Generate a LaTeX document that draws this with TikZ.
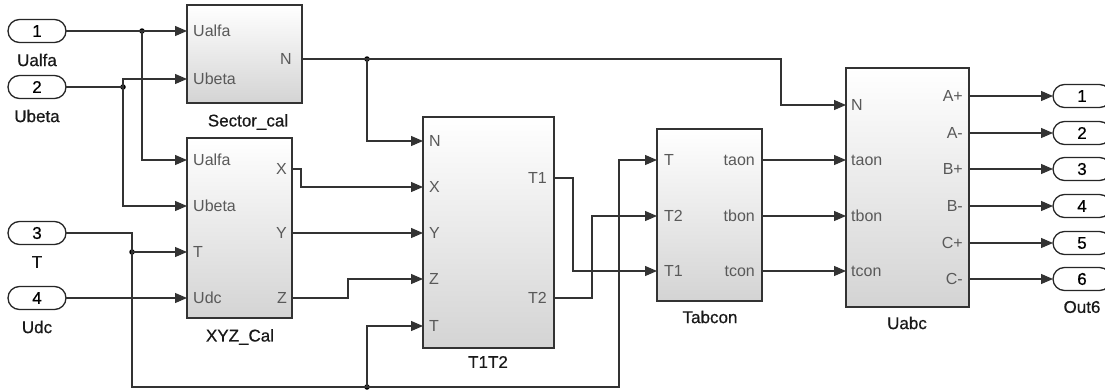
\documentclass[tikz,border=0pt]{standalone}
\usepackage{fontspec}
\setmainfont{Liberation Sans}
\newfontfamily\namefont[FakeBold=0.6]{Liberation Sans}
\usetikzlibrary{arrows.meta}
\begin{document}
\begin{tikzpicture}[x=1pt,y=-1pt,
  blk/.style={draw=black!80, line width=1.3pt, top color=white, bottom color=black!17, inner sep=0pt, outer sep=0pt, anchor=north west},
  pill/.style={draw=black!85, line width=1.3pt, rounded corners=11.5pt, minimum width=58pt, minimum height=23pt, inner sep=0pt, outer sep=0pt, fill=white, font=\namefont\fontsize{17}{17}\selectfont},
  plbl/.style={text=black!65, font=\fontsize{16}{16}\selectfont, inner sep=0pt},
  bname/.style={font=\namefont\fontsize{17}{17}\selectfont, text=black!90, inner sep=0pt},
  wire/.style={draw=black!80, line width=1.1pt},
  arr/.style={wire, -{Triangle[length=12pt,width=10pt]}},
  jdot/.style={circle, fill=black, inner sep=0pt, minimum size=5.5pt}
]
\useasboundingbox (0,0) rectangle (1105,391);
\clip (0,0) rectangle (1105,391);

% ---------- blocks ----------
\node[blk, minimum width=115pt, minimum height=98pt] (sec) at (187,5) {};
\node[blk, minimum width=105pt, minimum height=180pt] (xyz) at (187,138) {};
\node[blk, minimum width=131pt, minimum height=231pt] (t12) at (423,117) {};
\node[blk, minimum width=105pt, minimum height=172pt] (tab) at (657,129) {};
\node[blk, minimum width=123pt, minimum height=239pt] (uabc) at (846,68) {};

\node[bname] (secname) at (248,122) {Sector\_cal};
\node[bname] (xyzname) at (240,337) {XYZ\_Cal};
\node[bname] (t12name) at (488,362) {T1T2};
\node[bname] (tabname) at (710,317) {Tabcon};
\node[bname] (uabcname) at (907,323) {Uabc};

% ---------- port labels ----------
\node[plbl, anchor=west] (l1) at (193,31) {Ualfa};
\node[plbl, anchor=west] (l2) at (193,79) {Ubeta};
\node[plbl, anchor=east] (l3) at (292,59) {N};

\node[plbl, anchor=west] (l4) at (193,160) {Ualfa};
\node[plbl, anchor=west] (l5) at (193,206) {Ubeta};
\node[plbl, anchor=west] (l6) at (193,252) {T};
\node[plbl, anchor=west] (l7) at (193,298) {Udc};
\node[plbl, anchor=east] (l8) at (287,169) {X};
\node[plbl, anchor=east] (l9) at (287,233) {Y};
\node[plbl, anchor=east] (l10) at (287,298) {Z};

\node[plbl, anchor=west] (l11) at (429,141) {N};
\node[plbl, anchor=west] (l12) at (429,187) {X};
\node[plbl, anchor=west] (l13) at (429,233) {Y};
\node[plbl, anchor=west] (l14) at (429,279) {Z};
\node[plbl, anchor=west] (l15) at (429,326) {T};
\node[plbl, anchor=east] (l16) at (547,178) {T1};
\node[plbl, anchor=east] (l17) at (547,298) {T2};

\node[plbl, anchor=west] (l18) at (664,160) {T};
\node[plbl, anchor=west] (l19) at (664,216) {T2};
\node[plbl, anchor=west] (l20) at (664,271) {T1};
\node[plbl, anchor=east] (l21) at (755,160) {taon};
\node[plbl, anchor=east] (l22) at (755,216) {tbon};
\node[plbl, anchor=east] (l23) at (755,271) {tcon};

\node[plbl, anchor=west] (l24) at (851,105) {N};
\node[plbl, anchor=west] (l25) at (851,160) {taon};
\node[plbl, anchor=west] (l26) at (851,216) {tbon};
\node[plbl, anchor=west] (l27) at (851,271) {tcon};
\node[plbl, anchor=east] (l28) at (963,96) {A+};
\node[plbl, anchor=east] (l29) at (963,133) {A-};
\node[plbl, anchor=east] (l30) at (963,169) {B+};
\node[plbl, anchor=east] (l31) at (963,206) {B-};
\node[plbl, anchor=east] (l32) at (963,243) {C+};
\node[plbl, anchor=east] (l33) at (963,279) {C-};

% ---------- inports / outports ----------
\node[pill] (in1) at (37,31) {1};
\node[pill] (in2) at (37,87) {2};
\node[pill] (in3) at (37,233) {3};
\node[pill] (in4) at (37,298) {4};
\node[bname] (n1) at (37,60) {Ualfa};
\node[bname] (n2) at (37,116) {Ubeta};
\node[bname] (n3) at (37,262) {T};
\node[bname] (n4) at (37,327) {Udc};

\node[pill] (o1) at (1082,96) {1};
\node[pill] (o2) at (1082,133) {2};
\node[pill] (o3) at (1082,169) {3};
\node[pill] (o4) at (1082,206) {4};
\node[pill] (o5) at (1082,243) {5};
\node[pill] (o6) at (1082,279) {6};
\node[bname] (n6) at (1082,307) {Out6};

% ---------- port coordinates ----------
\coordinate (sec-ua) at (187,31);
\coordinate (sec-ub) at (187,79);
\coordinate (sec-n) at (302,59);
\coordinate (xyz-ua) at (187,160);
\coordinate (xyz-ub) at (187,206);
\coordinate (xyz-t) at (187,252);
\coordinate (xyz-udc) at (187,298);
\coordinate (xyz-x) at (292,169);
\coordinate (xyz-y) at (292,233);
\coordinate (xyz-z) at (292,298);
\coordinate (t12-n) at (423,141);
\coordinate (t12-x) at (423,187);
\coordinate (t12-y) at (423,233);
\coordinate (t12-z) at (423,279);
\coordinate (t12-t) at (423,326);
\coordinate (t12-t1) at (554,178);
\coordinate (t12-t2) at (554,298);
\coordinate (tab-t) at (657,160);
\coordinate (tab-t2) at (657,216);
\coordinate (tab-t1) at (657,271);
\coordinate (tab-a) at (762,160);
\coordinate (tab-b) at (762,216);
\coordinate (tab-c) at (762,271);
\coordinate (u-n) at (846,105);
\coordinate (u-a) at (846,160);
\coordinate (u-b) at (846,216);
\coordinate (u-c) at (846,271);
\coordinate (u-o1) at (969,96);
\coordinate (u-o2) at (969,133);
\coordinate (u-o3) at (969,169);
\coordinate (u-o4) at (969,206);
\coordinate (u-o5) at (969,243);
\coordinate (u-o6) at (969,279);

% bend points
\coordinate (b1) at (619,387);
\coordinate (b2) at (781,59);
\coordinate (b3) at (301,169);
\coordinate (b4) at (348,298);
\coordinate (b5) at (573,178);
\coordinate (b6) at (592,298);

% junctions
\node[jdot] (j1) at (142,31) {};
\node[jdot] (j2) at (123,87) {};
\node[jdot] (j3) at (132,252) {};
\node[jdot] (j4) at (367,387) {};
\node[jdot] (j5) at (367,59) {};

% ---------- wires ----------
\draw[arr] (in1.east) -- (sec-ua);
\draw[arr] (j1.center) |- (xyz-ua);
\draw[arr] (in2.east) -- (j2.center) |- (sec-ub);
\draw[arr] (j2.center) |- (xyz-ub);
\draw[wire] (in3.east) -| (j3.center);
\draw[arr] (j3.center) -- (xyz-t);
\draw[arr] (j3.center) |- (j4.center) -- (b1) |- (tab-t);
\draw[arr] (j4.center) |- (t12-t);
\draw[arr] (in4.east) -- (xyz-udc);
\draw[arr] (sec-n) -- (b2) |- (u-n);
\draw[arr] (j5.center) |- (t12-n);
\draw[arr] (xyz-x) -- (b3) |- (t12-x);
\draw[arr] (xyz-y) -- (t12-y);
\draw[arr] (xyz-z) -- (b4) |- (t12-z);
\draw[arr] (t12-t1) -- (b5) |- (tab-t1);
\draw[arr] (t12-t2) -- (b6) |- (tab-t2);
\draw[arr] (tab-a) -- (u-a);
\draw[arr] (tab-b) -- (u-b);
\draw[arr] (tab-c) -- (u-c);
\draw[arr] (u-o1) -- (o1.west);
\draw[arr] (u-o2) -- (o2.west);
\draw[arr] (u-o3) -- (o3.west);
\draw[arr] (u-o4) -- (o4.west);
\draw[arr] (u-o5) -- (o5.west);
\draw[arr] (u-o6) -- (o6.west);
\end{tikzpicture}
\end{document}
